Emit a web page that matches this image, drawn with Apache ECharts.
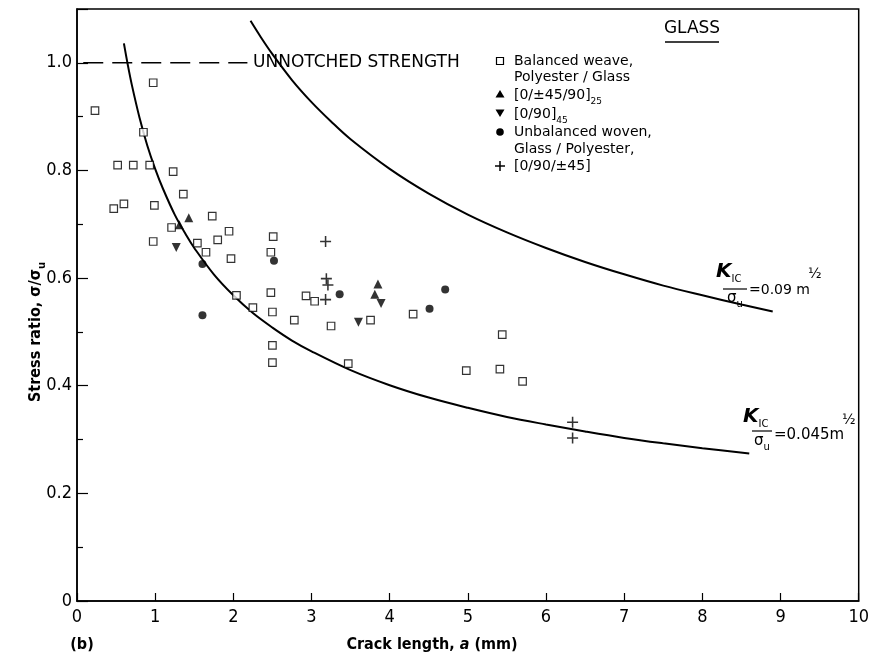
<!DOCTYPE html>
<html><head><meta charset="utf-8">
<script src="https://cdn.jsdelivr.net/npm/echarts@6/dist/echarts.min.js"></script>
<style>html,body{margin:0;padding:0;background:#fff}#c{width:872px;height:663px}</style>
</head><body><div id="c"></div>
<script>
// ---- data ----
const xTicks = [0,1,2,3,4,5,6,7,8,9,10];
const yTicks = [0,0.2,0.4,0.6,0.8,1.0];

const balancedX = [0.23,0.975,0.85,0.52,0.72,0.93,1.23,1.36,0.47,0.60,0.99,1.73,1.21,0.975,1.80,1.945,1.54,1.65,1.97,2.51,2.48,2.04,2.25,2.48,2.50,2.50,2.50,2.78,2.93,3.04,3.25,3.755,4.30,3.47,5.44,4.98,5.41,5.70];
const balancedY = [0.911,0.963,0.871,0.81,0.81,0.81,0.798,0.756,0.729,0.738,0.735,0.715,0.694,0.668,0.671,0.687,0.665,0.648,0.636,0.677,0.648,0.568,0.545,0.573,0.537,0.475,0.443,0.522,0.567,0.557,0.511,0.522,0.533,0.441,0.495,0.428,0.431,0.408];

const quasiX = [1.43,1.31,3.85,3.81];
const quasiY = [0.712,0.699,0.589,0.570];

const crossX = [1.27,3.89,3.60];
const crossY = [0.657,0.553,0.518];

const unbalX = [1.605,2.52,1.605,3.36,4.51,4.71];
const unbalY = [0.626,0.632,0.531,0.570,0.543,0.579];

const plusX = [3.18,3.19,3.21,3.18,6.34,6.34];
const plusY = [0.668,0.599,0.587,0.560,0.332,0.303];

const lowerX = [0.6,0.65,0.7,0.8,0.9,1.0,1.1,1.25,1.4,1.5,1.75,2.0,2.25,2.5,2.75,3.0,3.5,4.0,4.5,5.0,5.5,6.0,6.5,7.0,7.5,8.0,8.6];
const lowerY = [1.036,0.996,0.960,0.898,0.846,0.803,0.766,0.718,0.679,0.656,0.607,0.568,0.535,0.508,0.484,0.464,0.429,0.401,0.378,0.359,0.342,0.328,0.315,0.303,0.293,0.284,0.274];

const upperX = [2.22,2.35,2.5,2.75,3.0,3.25,3.5,4.0,4.5,5.0,5.5,6.0,6.5,7.0,7.5,8.0,8.5,8.9];
const upperY = [1.078,1.048,1.016,0.968,0.927,0.891,0.858,0.803,0.757,0.718,0.685,0.656,0.630,0.607,0.586,0.568,0.551,0.538];

const unnotchedX = [0.08,2.18];
const unnotchedY = [1.0,1.0];

// ---- helpers ----
const zip = (xs, ys) => xs.map((x, i) => [x, ys[i]]);
const F = 'DejaVu Sans';
const FC = "'DejaVu Sans Condensed','Liberation Sans Narrow','DejaVu Sans'";
const BLACK = '#000';
const PLUS = 'path://M4.3,0H5.7V4.3H10V5.7H5.7V10H4.3V5.7H0V4.3H4.3Z';

const chart = echarts.init(document.getElementById('c'), null, {renderer:'canvas'});

function txt(x, y, text, font, align, extra) {
  return Object.assign({
    type:'text', x:x, y:y, z:100,
    style:{text:text, font:font, fill:BLACK, align:align||'left', verticalAlign:'middle',
           textAlign:align||'left', textVerticalAlign:'middle'}
  }, extra||{});
}
function rtxt(x, y, text, rich, align, extra) {
  return Object.assign({
    type:'text', x:x, y:y, z:100,
    style:{text:text, rich:rich, fill:BLACK, align:align||'left', verticalAlign:'middle',
           textAlign:align||'left', textVerticalAlign:'middle'}
  }, extra||{});
}
function line(x1,y1,x2,y2,w){
  return {type:'line', z:100, shape:{x1:x1,y1:y1,x2:x2,y2:y2}, style:{stroke:BLACK, lineWidth:w||1.2}};
}
const subRich = (size, subSize, fam) => ({
  m:{fontSize:size, fontFamily:fam, fill:BLACK, color:BLACK, lineHeight:size+8, verticalAlign:'middle'},
  s:{fontSize:subSize, fontFamily:fam, fill:BLACK, color:BLACK, lineHeight:size+8, verticalAlign:'bottom'}
});
const kRich = {
  k:{fontSize:20, fontFamily:F, fontStyle:'italic', fontWeight:'bold', fill:BLACK, lineHeight:24, verticalAlign:'middle'},
  s:{fontSize:10, fontFamily:F, fill:BLACK, lineHeight:24, verticalAlign:'bottom'}
};

const graphics = [
  txt(692, 29, 'GLASS', '17px ' + F, 'center'),
  line(665, 42, 719, 42, 1.5),
  txt(253, 63, 'UNNOTCHED STRENGTH', '17px ' + F, 'left'),
  {type:'rect', z:100, shape:{x:496.5, y:57.5, width:7, height:7}, style:{fill:'#fff', stroke:BLACK, lineWidth:1.2}},
  {type:'polygon', z:100, shape:{points:[[500,90],[504.5,97.5],[495.5,97.5]]}, style:{fill:BLACK}},
  {type:'polygon', z:100, shape:{points:[[495.5,109.5],[504.5,109.5],[500,117]]}, style:{fill:BLACK}},
  {type:'circle', z:100, shape:{cx:500, cy:132, r:3.8}, style:{fill:BLACK}},
  line(495, 166, 505, 166, 1.5), line(500, 161, 500, 171, 1.5),
  txt(514, 61, 'Balanced weave,', '14px ' + F),
  txt(514, 77, 'Polyester / Glass', '14px ' + F),
  rtxt(514, 95, '{m|[0/±45/90]}{s|25}', subRich(14, 9, F)),
  rtxt(514, 114, '{m|[0/90]}{s|45}', subRich(14, 9, F)),
  txt(514, 132, 'Unbalanced woven,', '14px ' + F),
  txt(514, 149, 'Glass / Polyester,', '14px ' + F),
  txt(514, 166, '[0/90/±45]', '14px ' + F),
  // upper K label
  rtxt(716, 272, '{k|K}{s|IC}', kRich),
  line(723, 289, 747, 289, 1.2),
  rtxt(727, 298, '{m|σ}{s|u}', subRich(15, 10, F)),
  txt(749, 290, '=0.09 m', '14px ' + F),
  txt(808, 274, '½', '14px ' + F),
  // lower K label
  rtxt(743, 417, '{k|K}{s|IC}', kRich),
  line(752, 431, 772, 431, 1.2),
  rtxt(754, 441, '{m|σ}{s|u}', subRich(15, 10, F)),
  txt(774, 435, '=0.045m', '15px ' + F),
  txt(842, 420, '½', '14px ' + F),
  // axis names
  rtxt(36, 332, '{m|Stress ratio, σ/σ}{s|u}', {
    m:{fontSize:16, fontFamily:FC, fontWeight:'bold', fill:BLACK, lineHeight:24, verticalAlign:'middle'},
    s:{fontSize:11, fontFamily:FC, fontWeight:'bold', fill:BLACK, lineHeight:24, verticalAlign:'bottom'}},
    'center', {rotation: Math.PI/2}),
  rtxt(432, 645, '{m|Crack length, }{i|a}{m| (mm)}', {
    m:{fontSize:16, fontFamily:FC, fontWeight:'bold', fill:BLACK, verticalAlign:'middle'},
    i:{fontSize:16, fontFamily:FC, fontWeight:'bold', fontStyle:'italic', fill:BLACK, verticalAlign:'middle'}},
    'center'),
  txt(82, 645, '(b)', 'bold 16px ' + FC, 'center')
];

const scatterBase = {type:'scatter', z:5, animation:false, silent:true};

chart.setOption({
  animation:false,
  backgroundColor:'#fff',
  grid:{left:77, right:12, top:9, bottom:62, show:true, borderColor:BLACK, borderWidth:1.5, backgroundColor:'transparent'},
  xAxis:{
    type:'value', min:xTicks[0], max:xTicks[xTicks.length-1], interval:1,
    axisLine:{show:true, onZero:false, lineStyle:{color:BLACK, width:1.5}},
    axisTick:{show:true, inside:true, length:8, lineStyle:{color:BLACK, width:1.2}},
    axisLabel:{color:BLACK, fontSize:18, fontFamily:FC, margin:7},
    splitLine:{show:false}
  },
  yAxis:{
    type:'value', min:0, max:1.1, interval:0.2,
    axisLine:{show:true, onZero:false, lineStyle:{color:BLACK, width:1.5}},
    axisTick:{show:true, inside:true, length:11, lineStyle:{color:BLACK, width:1.2}},
    minorTick:{show:true, splitNumber:2, length:6, lineStyle:{color:BLACK, width:1.2}},
    axisLabel:{color:BLACK, fontSize:18, fontFamily:FC, margin:5, showMaxLabel:false,
      formatter: v => (yTicks.indexOf(Math.round(v*10)/10) < 0) ? '' : (v === 0 ? '0' : v.toFixed(1))},
    splitLine:{show:false}, minorSplitLine:{show:false}
  },
  series:[
    {type:'line', name:'unnotched', data:zip(unnotchedX, unnotchedY), symbol:'none', z:2,
     lineStyle:{color:BLACK, width:1.5, type:[20,9]}},
    {type:'line', name:'K 0.045', data:zip(lowerX, lowerY), symbol:'none', smooth:0.35, z:2,
     lineStyle:{color:BLACK, width:2}},
    {type:'line', name:'K 0.09', data:zip(upperX, upperY), symbol:'none', smooth:0.35, z:2,
     lineStyle:{color:BLACK, width:2}},
    Object.assign({}, scatterBase, {name:'Balanced weave', data:zip(balancedX, balancedY), symbol:'rect', symbolSize:7.5,
      itemStyle:{color:'#fff', borderColor:BLACK, borderWidth:1.2}}),
    Object.assign({}, scatterBase, {name:'[0/±45/90]', data:zip(quasiX, quasiY), symbol:'triangle', symbolSize:9,
      itemStyle:{color:BLACK}}),
    Object.assign({}, scatterBase, {name:'[0/90]', data:zip(crossX, crossY), symbol:'triangle', symbolRotate:180, symbolSize:9,
      itemStyle:{color:BLACK}}),
    Object.assign({}, scatterBase, {name:'Unbalanced woven', data:zip(unbalX, unbalY), symbol:'circle', symbolSize:8,
      itemStyle:{color:BLACK}}),
    Object.assign({}, scatterBase, {name:'[0/90/±45]', data:zip(plusX, plusY), symbol:PLUS, symbolSize:11,
      itemStyle:{color:BLACK}})
  ],
  graphic:graphics
});
</script>
</body></html>
